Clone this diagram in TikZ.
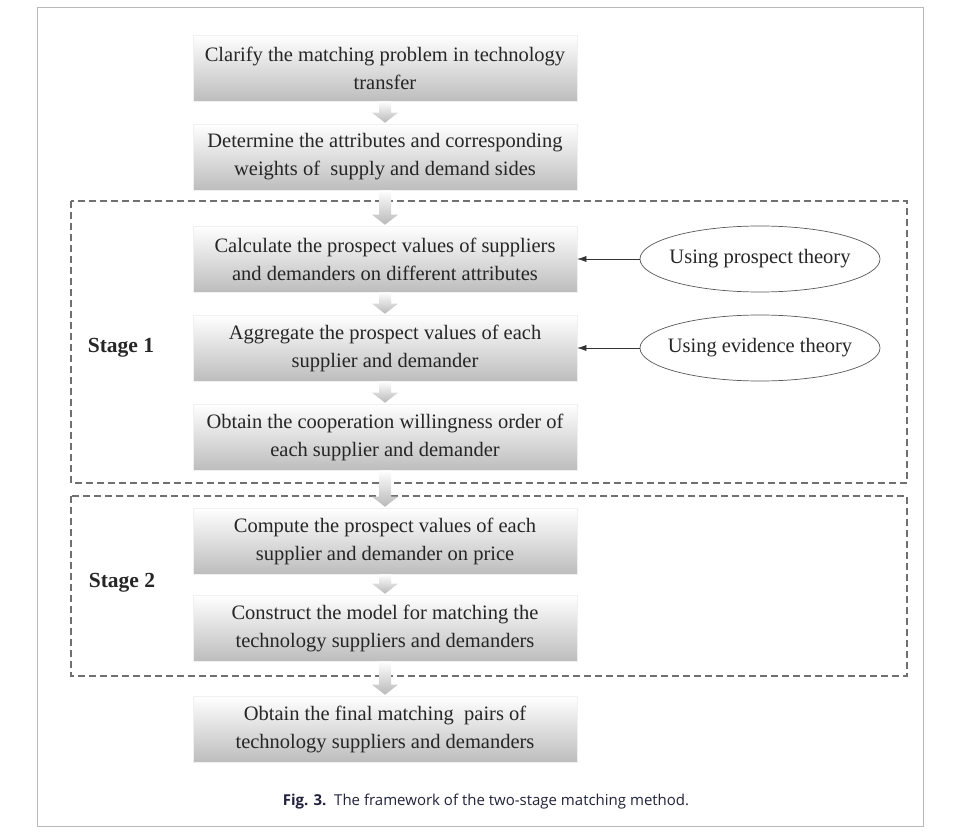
\documentclass[tikz,border=0pt]{standalone}
\usepackage{fontspec}
\setmainfont{Liberation Serif}
\newfontfamily\capfont{Open Sans}
\usetikzlibrary{shapes.geometric,arrows.meta,calc}
\definecolor{txt}{HTML}{262626}
\definecolor{dashc}{HTML}{707070}
\tikzset{
  stepbox/.style={minimum width=384pt,minimum height=66pt,inner sep=0pt,
    top color=white,bottom color=gray!52,draw=gray!12,line width=0.6pt,
    align=center,text=txt,font=\fontsize{20.5}{28}\selectfont},
  theory/.style={ellipse,draw=gray!70!black,line width=0.7pt,minimum width=240pt,
    minimum height=66pt,inner xsep=-12pt,inner ysep=0pt,text=txt,font=\fontsize{20.5}{24}\selectfont},
  stagebox/.style={draw=dashc,line width=1.3pt,dash pattern=on 7pt off 4pt},
  stagelabel/.style={text=txt,font=\fontsize{21.5}{24}\selectfont\bfseries},
  thinarrow/.style={draw=black!80,line width=0.6pt,-{Latex[length=9pt,width=6pt]}},
}
\newcommand{\blockarrow}[2]{%
  \path let \p1=(#1.south), \p2=(#2.north) in
    [top color=white,bottom color=gray!55,draw=none]
    (\x1-6pt,\y1) -- (\x1+6pt,\y1) -- (\x1+6pt,\y2+11pt) -- (\x1+13pt,\y2+11pt)
    -- (\x1,\y2+1pt) -- (\x1-13pt,\y2+11pt) -- (\x1-6pt,\y2+11pt) -- cycle;}
\begin{document}
\begin{tikzpicture}[x=1pt,y=-1pt]
\useasboundingbox (0,0) rectangle (961,837);
\fill[white] (0,0) rectangle (961,837);
\draw[gray!55,line width=1pt] (37,8) rectangle (923,826);
% stage frames
\draw[stagebox] (71,201) rectangle (907,483);
\draw[stagebox] (71,496) rectangle (907,676);
% boxes
\node[stepbox] (b1) at (385,68) {Clarify the matching problem in technology\\transfer};
\node[stepbox] (b2) at (385,157) {Determine the attributes and corresponding\\weights of\ \ supply and demand sides};
\node[stepbox] (b3) at (385,259) {Calculate the prospect values of suppliers\\and demanders on different attributes};
\node[stepbox] (b4) at (385,348) {Aggregate the prospect values of each\\supplier and demander};
\node[stepbox] (b5) at (385,437) {Obtain the cooperation willingness order of\\each supplier and demander};
\node[stepbox] (b6) at (385,541) {Compute the prospect values of each\\supplier and demander on price};
\node[stepbox] (b7) at (385,628) {Construct the model for matching the\\technology suppliers and demanders};
\node[stepbox] (b8) at (385,729) {Obtain the final matching\ \ pairs of\\technology suppliers and demanders};
% block arrows
\blockarrow{b1}{b2}
\blockarrow{b2}{b3}
\blockarrow{b3}{b4}
\blockarrow{b4}{b5}
\blockarrow{b5}{b6}
\blockarrow{b6}{b7}
\blockarrow{b7}{b8}
% ellipses
\node[theory] (e1) at (760,259) {Using prospect theory};
\node[theory] (e2) at (760,348) {Using evidence theory};
\draw[thinarrow] (e1.west) -- (b3.east);
\draw[thinarrow] (e2.west) -- (b4.east);
% stage labels
\node[stagelabel] (s1) at (121,348) {Stage 1};
\node[stagelabel] (s2) at (122,583) {Stage 2};
% caption
\node[text=txt!90!blue,font=\capfont\fontsize{15}{18}\selectfont] (cap) at (486,802)
  {\textbf{Fig. 3.}\ \ The framework of the two-stage matching method.};
\end{tikzpicture}
\end{document}
